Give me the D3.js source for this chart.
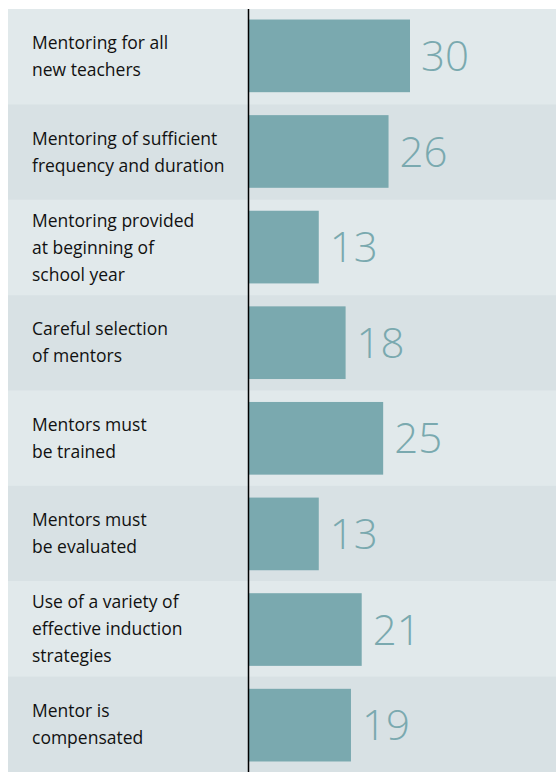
<!DOCTYPE html>
<html>
<head>
<meta charset="utf-8">
<script src="https://cdn.jsdelivr.net/npm/d3@7"></script>
<style>
	body { margin: 0; background: #ffffff; }
	svg { display: block; }
</style>
</head>
<body>
<svg id="chart" width="556" height="772"></svg>
<script>
/* chart data */
var categories = [
	["Mentoring for all", "new teachers"],
	["Mentoring of sufficient", "frequency and duration"],
	["Mentoring provided", "at beginning of", "school year"],
	["Careful selection", "of mentors"],
	["Mentors must", "be trained"],
	["Mentors must", "be evaluated"],
	["Use of a variety of", "effective induction", "strategies"],
	["Mentor is", "compensated"]
];
var values = [30, 26, 13, 18, 25, 13, 21, 19];

var svg = d3.select("#chart");
var bandLight = "#e1e9eb", bandDark = "#d8e1e4", barColor = "#7aa9af";

var idx = d3.range(values.length);

var y = d3.scaleBand()
	.domain(idx)
	.range([9, 772])
	.padding(0);

// bars sit inside each band
var yBar = d3.scaleBand()
	.domain(idx)
	.range([9, 772])
	.paddingInner(0.24)
	.paddingOuter(0.11);

var x = d3.scaleLinear()
	.domain([0, 30])
	.range([249, 410]);

// background bands
svg.selectAll("rect.band")
	.data(idx)
	.enter().append("rect")
	.attr("class", "band")
	.attr("x", 8)
	.attr("y", function(i) { return y(i); })
	.attr("width", 548)
	.attr("height", y.bandwidth() + 0.5)
	.attr("fill", function(i) { return i % 2 == 0 ? bandLight : bandDark; });

// bars
svg.selectAll("rect.bar")
	.data(idx)
	.enter().append("rect")
	.attr("class", "bar")
	.attr("x", x(0))
	.attr("y", function(i) { return yBar(i); })
	.attr("width", function(i) { return x(values[i]) - x(0); })
	.attr("height", yBar.bandwidth())
	.attr("fill", barColor);

// value labels
svg.selectAll("text.value")
	.data(idx)
	.enter().append("text")
	.attr("class", "value")
	.attr("x", function(i) { return x(values[i]) + 11; })
	.attr("y", function(i) { return yBar(i) + yBar.bandwidth() / 2; })
	.attr("dy", "0.36em")
	.style("font-family", "'Open Sans', sans-serif")
	.style("font-weight", 300)
	.style("font-size", "42px")
	.style("fill", barColor)
	.text(function(i) { return values[i]; });

// category labels
var lineH = 27;
var lab = svg.selectAll("text.cat")
	.data(idx)
	.enter().append("text")
	.attr("class", "cat")
	.attr("x", 32)
	.style("font-family", "'Open Sans', sans-serif")
	.style("font-size", "17.5px")
	.style("fill", "#111111");

lab.each(function(i) {
	var lines = categories[i];
	var mid = y(i) + y.bandwidth() / 2;
	var top = mid - (lines.length - 1) * lineH / 2;
	var t = d3.select(this);
	lines.forEach(function(l, k) {
		t.append("tspan")
			.attr("x", 32)
			.attr("y", top + k * lineH)
			.attr("dy", "0.35em")
			.text(l);
	});
});

// axis line
svg.append("line")
	.attr("x1", 248.5).attr("x2", 248.5)
	.attr("y1", 9).attr("y2", 772)
	.attr("stroke", "#000")
	.attr("stroke-width", 1.5);
</script>
</body>
</html>
